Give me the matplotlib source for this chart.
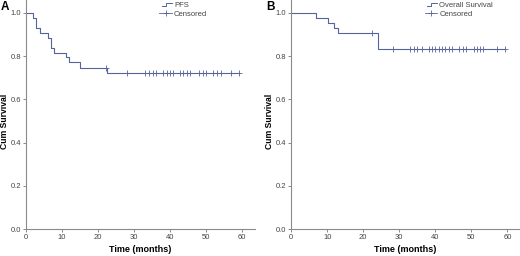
import matplotlib
matplotlib.use("Agg")
import matplotlib.pyplot as plt
from matplotlib.lines import Line2D
from matplotlib.legend_handler import HandlerBase
import numpy as np

plt.rcParams['font.family'] = ['Liberation Sans', 'DejaVu Sans']

# panel A: PFS (step times in months, survival after each step)
pfs_t = [0, 2.0, 2.8, 3.9, 6.0, 6.9, 7.8, 11.0, 12.0, 15.0, 22.5]
pfs_s = [1.0, 0.977, 0.931, 0.908, 0.885, 0.840, 0.817, 0.794, 0.771, 0.747, 0.720]
pfs_cens_t = [22.2, 28, 33, 34, 35.2, 36.1, 38.1, 39, 39.9, 40.7, 42.8, 43.7,
              44.6, 45.6, 48, 49, 50, 52, 53, 54.1, 57, 59.2]
pfs_end = 59.2

# panel B: overall survival
os_t = [0, 7.0, 10.1, 12.0, 13.1, 24.1]
os_s = [1.0, 0.977, 0.954, 0.931, 0.908, 0.835]
os_cens_t = [22.3, 28.3, 33.1, 34, 35, 36.2, 38.2, 39.1, 40, 41, 41.9, 42.8,
             43.8, 44.7, 46.7, 47.6, 48.6, 50.6, 51.5, 52.4, 53.3, 57.1, 59.3]
os_end = 59.3

line_col = '#56649c'
spine_col = '#8a8a8a'
text_col = '#444444'


class StepHandler(HandlerBase):
    def create_artists(self, legend, orig, xd, yd, w, h, fontsize, trans):
        x0 = xd + w * 0.2
        xs = [x0, x0 + w * 0.35, x0 + w * 0.35, xd + w]
        ys = [yd + h * 0.15, yd + h * 0.15, yd + h * 0.85, yd + h * 0.85]
        ln = Line2D(xs, ys, color=line_col, lw=0.7, transform=trans)
        return [ln]


def surv_at(t, times, surv):
    idx = np.searchsorted(times, t, side='right') - 1
    return np.array(surv)[idx]


def panel(ax, times, surv, cens_t, t_end, name, letter):
    xs = list(times) + [t_end]
    ys = list(surv) + [surv[-1]]
    ax.step(xs, ys, where='post', color=line_col, lw=0.8)
    cy = surv_at(np.array(cens_t), times, surv)
    ax.plot(cens_t, cy, ls='none', marker='+', ms=4, mew=0.6, color=line_col)
    ax.set_xlim(0, 63.5)
    ax.set_ylim(0, 1.06)
    ax.set_xticks([0, 10, 20, 30, 40, 50, 60])
    ax.set_yticks([0.0, 0.2, 0.4, 0.6, 0.8, 1.0])
    ax.set_yticklabels(['0.0', '0.2', '0.4', '0.6', '0.8', '1.0'])
    for s in ['top', 'right']:
        ax.spines[s].set_visible(False)
    for s in ['left', 'bottom']:
        ax.spines[s].set_color(spine_col)
        ax.spines[s].set_linewidth(0.8)
    ax.tick_params(axis='both', labelsize=5.5, colors=spine_col, labelcolor=text_col,
                   length=2.5, width=0.7, pad=1)
    ax.set_xlabel('Time (months)', fontsize=6.5, fontweight='bold', labelpad=3)
    ax.set_ylabel('Cum Survival', fontsize=6.2, fontweight='bold')
    ax.yaxis.set_label_coords(-0.073, 0.47)
    h1 = Line2D([], [], color=line_col)
    h2 = Line2D([], [], color=line_col, lw=0.6, marker='+', ms=4, mew=0.6)
    leg = ax.legend([h1, h2], [name, 'Censored'], handler_map={h1: StepHandler()},
                    loc='upper left', bbox_to_anchor=(0.57, 1.005), frameon=False,
                    fontsize=5.5, handlelength=1.6, handletextpad=0.3,
                    labelspacing=0.2, borderaxespad=0)
    for t in leg.get_texts():
        t.set_color(text_col)
    ax.text(-0.11, 0.995, letter, transform=ax.transAxes, fontsize=8.5,
            fontweight='bold', va='top', ha='left')


fig = plt.figure(figsize=(5.2, 2.56), dpi=100)
ax1 = fig.add_axes([0.05, 0.105, 0.44, 0.895])
ax2 = fig.add_axes([0.56, 0.105, 0.44, 0.895])
panel(ax1, pfs_t, pfs_s, pfs_cens_t, pfs_end, 'PFS', 'A')
panel(ax2, os_t, os_s, os_cens_t, os_end, 'Overall Survival', 'B')
fig.savefig('out.png', dpi=100)
